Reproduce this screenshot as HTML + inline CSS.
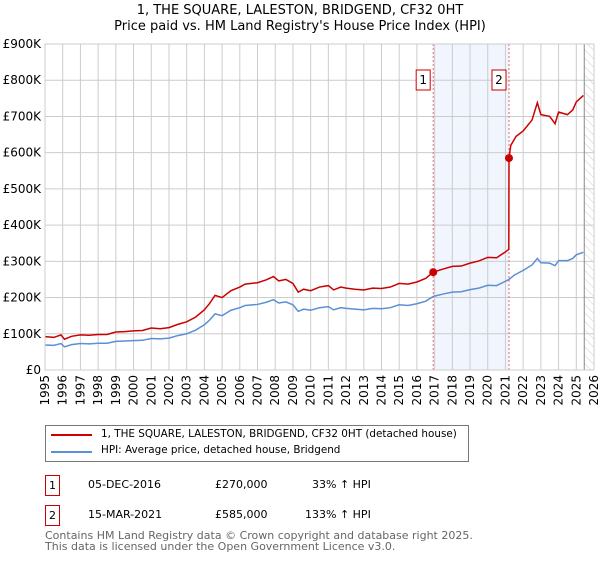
<!DOCTYPE html>
<html><head><meta charset="utf-8"><style>
body{margin:0;background:#fff;font-family:"DejaVu Sans","Liberation Sans",sans-serif}
svg text{font-family:"DejaVu Sans","Liberation Sans",sans-serif}
</style></head><body>
<svg width="600" height="560" xmlns="http://www.w3.org/2000/svg">
<g id="root"></g>
</svg>
<script>
const yTicks=[0,100,200,300,400,500,600,700,800,900];
const yTickLabels=["£0","£100K","£200K","£300K","£400K","£500K","£600K","£700K","£800K","£900K"];
const xYears=[1995,1996,1997,1998,1999,2000,2001,2002,2003,2004,2005,2006,2007,2008,2009,2010,2011,2012,2013,2014,2015,2016,2017,2018,2019,2020,2021,2022,2023,2024,2025,2026];
const hpiT=[1995,1995.5,1995.9,1996.1,1996.5,1997,1997.5,1998,1998.5,1999,1999.5,2000,2000.5,2001,2001.5,2002,2002.5,2003,2003.5,2004,2004.3,2004.6,2005,2005.5,2006,2006.3,2007,2007.5,2007.9,2008.2,2008.6,2009,2009.3,2009.6,2010,2010.5,2011,2011.3,2011.7,2012,2012.5,2013,2013.5,2014,2014.5,2015,2015.5,2016,2016.5,2016.92,2017.5,2018,2018.5,2019,2019.5,2020,2020.5,2021,2021.2,2021.5,2022,2022.5,2022.8,2023,2023.5,2023.8,2024,2024.5,2024.8,2025,2025.4];
const hpiV=[69,68,73,64,70,73,72,74,74,79,80,81,82,87,86,88,95,100,110,125,138,155,150,165,172,178,181,187,194,185,188,180,162,168,165,172,175,166,172,170,168,166,170,169,172,180,178,183,190,203,210,215,216,222,226,234,233,245,250,262,275,290,308,296,295,288,302,302,308,318,325];
const redT=[1995,1995.5,1995.9,1996.1,1996.5,1997,1997.5,1998,1998.5,1999,1999.5,2000,2000.5,2001,2001.5,2002,2002.5,2003,2003.5,2004,2004.3,2004.6,2005,2005.5,2006,2006.3,2007,2007.5,2007.9,2008.2,2008.6,2009,2009.3,2009.6,2010,2010.5,2011,2011.3,2011.7,2012,2012.5,2013,2013.5,2014,2014.5,2015,2015.5,2016,2016.5,2016.92,2017.5,2018,2018.5,2019,2019.5,2020,2020.5,2021,2021.19,2021.2,2021.3,2021.6,2022,2022.5,2022.8,2023,2023.5,2023.8,2024,2024.5,2024.8,2025,2025.4];
const redV=[92,90,97,85,93,97,96,98,98,105,106,108,109,116,114,117,126,133,146,166,184,206,200,219,229,237,241,249,258,246,250,239,215,223,219,229,233,221,229,226,223,221,226,225,229,239,237,243,253,270,279,286,287,295,301,311,310,326,333,585,620,645,660,690,738,705,700,680,712,705,718,740,758];
const saleT=[2016.92,2021.2];
const saleV=[270,585];
const saleLabels=["1","2"];

const L=45,R=594,T=44,B=370;
const x=t=>L+(t-1995)*(R-L)/31;
const y=v=>B-v*(B-T)/900;
const NS="http://www.w3.org/2000/svg";
const root=document.getElementById('root');
function mk(tag,attrs,parent){const e=document.createElementNS(NS,tag);for(const k in attrs)e.setAttribute(k,attrs[k]);(parent||root).appendChild(e);return e;}

const shade=mk('rect',{x:x(saleT[0]),y:T,width:x(saleT[1])-x(saleT[0]),height:B-T,fill:'#eef3fc',opacity:0.8});


const defs=mk('defs',{});
const pat=mk('pattern',{id:'h',width:6,height:6,patternUnits:'userSpaceOnUse',patternTransform:'rotate(-45)'},defs);
mk('line',{x1:0,y1:0,x2:0,y2:6,stroke:'#ccc','stroke-width':1},pat);
const hatch=mk('rect',{x:x(2025.45),y:T,width:R-x(2025.45),height:B-T,fill:'url(#h)'});


yTicks.forEach((v,i)=>{
 const g=mk('line',{x1:L,x2:R,y1:y(v),y2:y(v),stroke:'#ccc','stroke-width':1});
 
 
 const t=mk('text',{x:L-4,y:y(v)+4,'text-anchor':'end','font-size':12,fill:'#000'});
 t.textContent=yTickLabels[i];
 
 
});
xYears.forEach(yr=>{
 const g=mk('line',{x1:x(yr),x2:x(yr),y1:T,y2:B,stroke:'#ccc','stroke-width':1});
 
 
 const t=mk('text',{x:0,y:0,'text-anchor':'end','font-size':12,fill:'#000',transform:`translate(${x(yr)+4},${B+5}) rotate(-90)`});
 t.textContent=yr;
 
 
});
mk('line',{x1:x(2025.45),x2:x(2025.45),y1:T,y2:B,stroke:'#888','stroke-width':1});
saleT.forEach((t,i)=>{
 const l=mk('line',{x1:x(t),x2:x(t),y1:T,y2:B,stroke:'#e66','stroke-width':1,'stroke-dasharray':'2,2'});
 
 
 const bx=mk('rect',{x:x(t)-17,y:70,width:14,height:20,fill:'#fff',stroke:'#c00','stroke-width':1});
 
 
 const tx=mk('text',{x:x(t)-10,y:84,'text-anchor':'middle','font-size':12});
 tx.textContent=saleLabels[i];
 
 
});
const hp=mk('polyline',{points:hpiT.map((t,i)=>x(t)+','+y(hpiV[i])).join(' '),fill:'none',stroke:'#5b8fd6','stroke-width':1.5});


const rp=mk('polyline',{points:redT.map((t,i)=>x(t)+','+y(redV[i])).join(' '),fill:'none',stroke:'#cc0000','stroke-width':1.5});


saleT.forEach((t,i)=>{
 const c=mk('circle',{cx:x(t),cy:y(saleV[i]),r:4,fill:'#cc0000'});
 
 
});
mk('rect',{x:L,y:T,width:R-L,height:B-T,fill:'none',stroke:'#ccc','stroke-width':1});
</script>
<div style="position:absolute;left:0;top:0;width:600px;text-align:center;font-size:13px;line-height:16px;padding-top:3px">1, THE SQUARE, LALESTON, BRIDGEND, CF32 0HT<br>Price paid vs. HM Land Registry's House Price Index (HPI)</div>
<div style="position:absolute;left:45px;top:425px;width:422px;height:35px;border:1px solid #777;font-size:10.4px;white-space:nowrap">
 <div style="position:absolute;left:5px;top:8px;width:41px;height:2px;background:#cc0000"></div>
 <div style="position:absolute;left:55px;top:2px">1, THE SQUARE, LALESTON, BRIDGEND, CF32 0HT (detached house)</div>
 <div style="position:absolute;left:5px;top:25px;width:41px;height:2px;background:#5b8fd6"></div>
 <div style="position:absolute;left:55px;top:18px">HPI: Average price, detached house, Bridgend</div>
</div>
<div style="font-size:11px">
 <div style="position:absolute;left:45px;top:475px;width:13px;height:19px;border:1px solid #c00;text-align:center;line-height:19px">1</div>
 <div style="position:absolute;left:88px;top:478px">05-DEC-2016</div>
 <div style="position:absolute;left:215px;top:478px">£270,000</div>
 <div style="position:absolute;left:312px;top:478px">33% ↑ HPI</div>
 <div style="position:absolute;left:45px;top:505px;width:13px;height:19px;border:1px solid #c00;text-align:center;line-height:19px">2</div>
 <div style="position:absolute;left:88px;top:508px">15-MAR-2021</div>
 <div style="position:absolute;left:215px;top:508px">£585,000</div>
 <div style="position:absolute;left:305px;top:508px">133% ↑ HPI</div>
 <div style="position:absolute;left:45px;top:530px;color:#666;line-height:11px">Contains HM Land Registry data © Crown copyright and database right 2025.<br>This data is licensed under the Open Government Licence v3.0.</div>
</div>
</body></html>
